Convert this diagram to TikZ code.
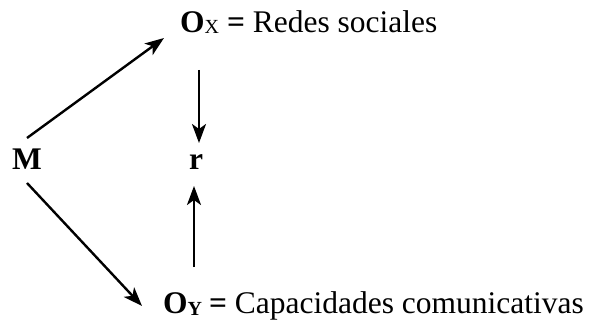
\documentclass[tikz,border=0pt]{standalone}
\usepackage{fontspec}
\setmainfont{Liberation Serif}
\usetikzlibrary{arrows.meta}
\begin{document}
\begin{tikzpicture}[x=1pt,y=-1pt,
  lbl/.style={inner sep=0pt,anchor=base west,font=\fontsize{31.5}{38}\selectfont},
  arr/.style={line width=2.4pt,-{Stealth[length=19pt,width=14pt,inset=5pt]}}]
\useasboundingbox (0,0) rectangle (595,326);
\node[lbl] (ox) at (180,33) {\textbf{O}\raisebox{-1pt}{\fontsize{20}{20}\selectfont X} \textbf{=} Redes sociales};
\node[lbl] (m) at (12,170) {\textbf{M}};
\node[lbl] (r) at (189,170) {\textbf{r}};
\node[lbl] (oy) at (163,313) {\textbf{O}\raisebox{-2pt}{\fontsize{20}{20}\selectfont\textbf{Y}}\hspace{-1pt} \textbf{=} Capacidades comunicativas};
\coordinate (a1s) at (27,138);
\coordinate (a1e) at (164,38);
\coordinate (a2s) at (27,183);
\coordinate (a2e) at (142,306);
\coordinate (a3s) at (199,70);
\coordinate (a3e) at (199,143);
\coordinate (a4s) at (194,267);
\coordinate (a4e) at (194,186);
\draw[arr] (a1s) -- (a1e);
\draw[arr] (a2s) -- (a2e);
\draw[arr] (a3s) -- (a3e);
\draw[arr] (a4s) -- (a4e);
\end{tikzpicture}
\end{document}
